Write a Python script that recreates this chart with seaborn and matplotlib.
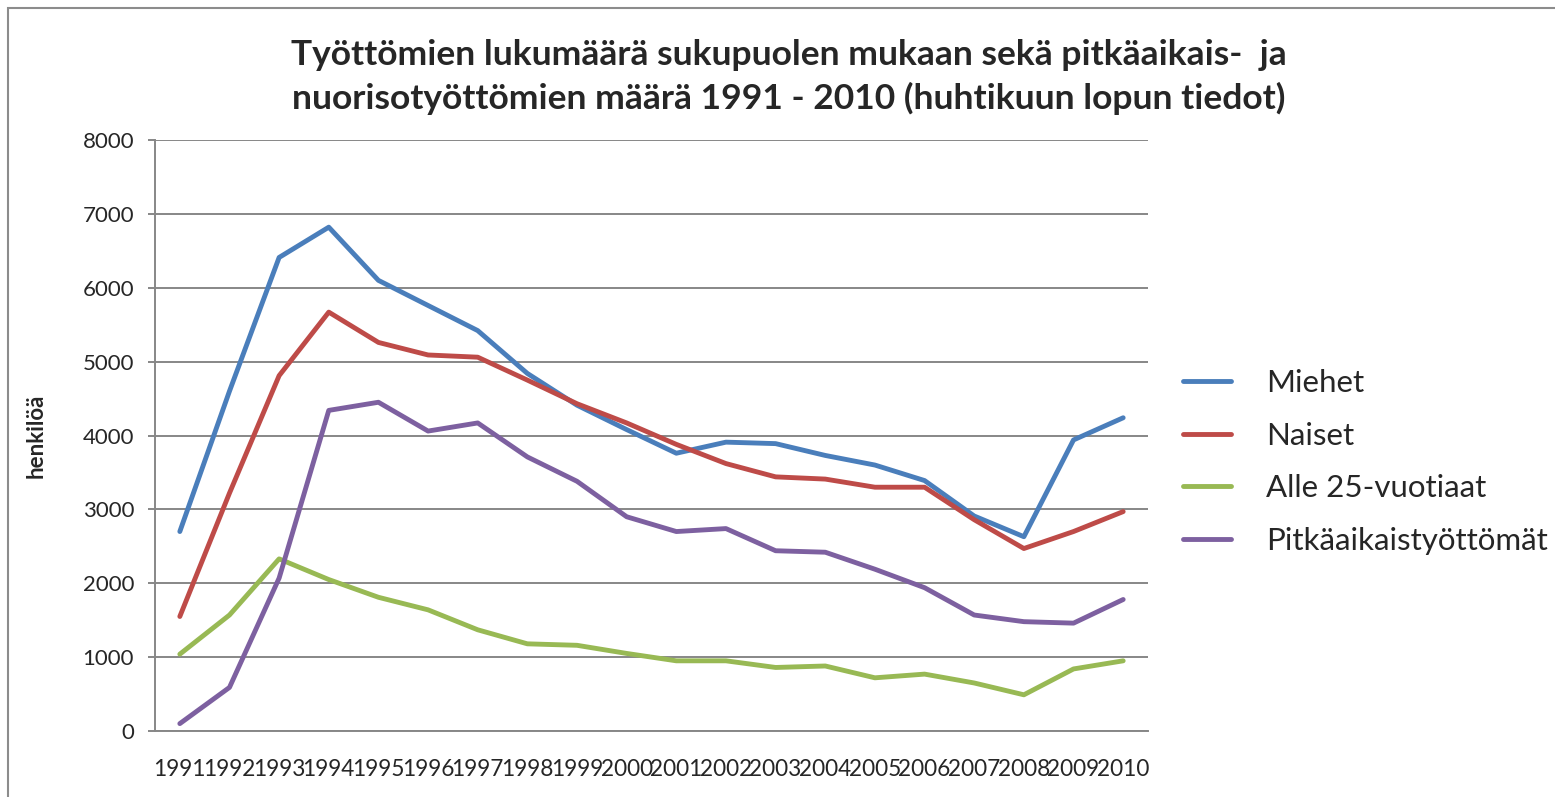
import numpy as np
import pandas as pd
import matplotlib
matplotlib.use('Agg')
from matplotlib import pyplot as plt
from matplotlib.patches import Rectangle
import seaborn as sns

years = ['1991', '1992', '1993', '1994', '1995', '1996', '1997', '1998', '1999', '2000',
         '2001', '2002', '2003', '2004', '2005', '2006', '2007', '2008', '2009', '2010']
miehet = [2700, 4600, 6410, 6820, 6100, 5760, 5420, 4840, 4410, 4080,
          3760, 3910, 3890, 3730, 3600, 3390, 2910, 2630, 3940, 4240]
naiset = [1550, 3220, 4810, 5670, 5260, 5090, 5060, 4750, 4430, 4170,
          3880, 3620, 3440, 3410, 3300, 3300, 2860, 2470, 2700, 2970]
alle25 = [1040, 1570, 2330, 2050, 1810, 1640, 1370, 1180, 1160, 1050,
          950, 950, 860, 880, 720, 770, 650, 490, 840, 950]
pitka = [100, 590, 2070, 4340, 4450, 4060, 4170, 3710, 3380, 2900,
         2700, 2740, 2440, 2420, 2190, 1940, 1570, 1480, 1460, 1780]
series_names = ['Miehet', 'Naiset', 'Alle 25-vuotiaat', 'Pitkäaikaistyöttömät']
colors = ['#4a7ebb', '#be4b48', '#98b954', '#7d60a0']

df = pd.DataFrame({
    'pos': list(range(len(years))) * 4,
    'value': miehet + naiset + alle25 + pitka,
    'series': [s for s in series_names for _ in years],
})

sns.set_style('white')
plt.rcParams['font.family'] = ['Lato', 'DejaVu Sans']
grid_col = '#878787'

fig = plt.figure(figsize=(15.55, 7.97), dpi=100)
ax = fig.add_axes([155 / 1555, 1 - 731 / 797, (1148 - 155) / 1555, (731 - 140) / 797])

sns.lineplot(data=df, x='pos', y='value', hue='series', hue_order=series_names,
             palette=colors, linewidth=3.5, ax=ax, legend=False)
for ln in ax.lines:
    ln.set_solid_capstyle('round')
    ln.set_solid_joinstyle('round')

ax.set_xlim(-0.5, len(years) - 0.5)
ax.set_ylim(0, 8000)
ax.set_yticks(range(0, 8001, 1000))
ax.set_xticks(range(len(years)))
ax.set_xticklabels(years)
ax.set_xticks(np.arange(-0.5, len(years), 1), minor=True)
ax.tick_params(axis='x', which='major', length=0, pad=20, labelsize=16.3)
ax.tick_params(axis='x', which='minor', length=5, width=1.4, color=grid_col, direction='out')
ax.tick_params(axis='y', length=5, width=1.4, color=grid_col, pad=10, labelsize=16, left=True)
ax.yaxis.grid(True, color=grid_col, linewidth=1.4)
ax.xaxis.grid(False)
ax.set_axisbelow(True)
for side in ['top', 'right']:
    ax.spines[side].set_visible(False)
for side in ['left', 'bottom']:
    ax.spines[side].set_color(grid_col)
    ax.spines[side].set_linewidth(1.4)
ax.set_xlabel('')
ax.set_ylabel('henkilöä', fontsize=16, fontweight='bold', labelpad=26)

fig.text(0.507, 1 - 55 / 797, 'Työttömien lukumäärä sukupuolen mukaan sekä pitkäaikais-  ja',
         ha='center', va='center', fontsize=25.5, fontweight='bold')
fig.text(0.507, 1 - 98 / 797, 'nuorisotyöttömien määrä 1991 - 2010 (huhtikuun lopun tiedot)',
         ha='center', va='center', fontsize=25.5, fontweight='bold')

handles = [plt.Line2D([], [], color=c, linewidth=3.5, solid_capstyle='round') for c in colors]
fig.legend(handles, series_names, loc='center left', bbox_to_anchor=(1183 / 1555, 1 - 462 / 797),
           frameon=False, fontsize=22.5, handlelength=1.55, handletextpad=1.1,
           labelspacing=0.79, borderpad=0, borderaxespad=0)

fig.patches.append(Rectangle((8 / 1555, -0.1), 1.2, 1.1 - 8 / 797, transform=fig.transFigure,
                             fill=False, edgecolor='#8c8c8c', linewidth=1.5))

fig.savefig('out.png', dpi=100)
